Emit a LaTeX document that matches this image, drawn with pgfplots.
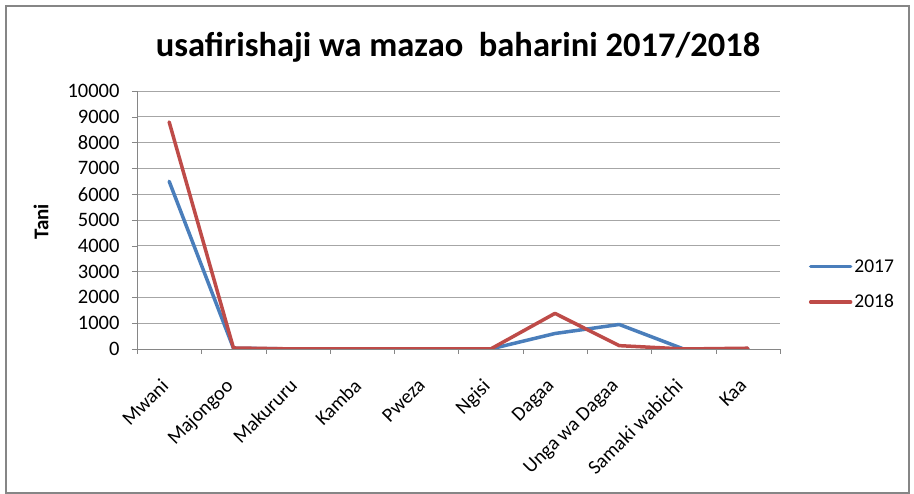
\documentclass[border=0pt]{standalone}
\usepackage{fontspec}
\setmainfont{Carlito}
\usepackage{pgfplots}
\pgfplotsset{compat=1.18}
\definecolor{s1}{HTML}{4A7EBB}
\definecolor{s2}{HTML}{BE4B48}
\definecolor{axgray}{HTML}{868686}
\definecolor{gridgray}{HTML}{A6A6A6}
\begin{document}
\begin{tikzpicture}[x=1pt,y=1pt]
\path[use as bounding box] (0,0) rectangle (914,494);
\draw[axgray, line width=1.5pt] (6,1) rectangle (909,488);
\node[font=\fontsize{34.5}{40}\selectfont\bfseries] at (458,447) {usafirishaji wa mazao\ \ baharini 2017/2018};
\node[rotate=90, font=\fontsize{21}{25}\selectfont\bfseries] at (41,272) {Tani};
\begin{axis}[
  at={(137pt,145pt)}, anchor=south west,
  scale only axis, width=643pt, height=258pt,
  xmin=-0.5, xmax=9.5, ymin=0, ymax=10000,
  xtick={0,...,9},
  xticklabels={Mwani,Majongoo,Makururu,Kamba,Pweza,Ngisi,Dagaa,Unga wa Dagaa,Samaki wabichi,Kaa},
  x tick label style={rotate=45, anchor=north east, font=\fontsize{20}{24}\selectfont, inner sep=1pt, xshift=-22pt, yshift=-9pt},
  major x tick style={draw=none},
  minor xtick={-0.5,0.5,...,9.5},
  minor x tick style={axgray},
  ytick={0,1000,...,10000},
  y tick label style={font=\fontsize{20.5}{24}\selectfont, /pgf/number format/1000 sep={}, xshift=-9pt},
  /pgf/number format/assume math mode=true,
  scaled y ticks=false,
  ymajorgrids, grid style={gridgray, line width=0.8pt},
  axis x line*=bottom, axis y line*=left,
  axis line style={axgray, line width=0.8pt, -},
  tick align=outside, major tick length=5pt, minor tick length=5pt,
  ytick style={axgray},
  legend style={at={(rel axis cs:1.04,0.25)}, anchor=west, draw=none, fill=none,
    font=\fontsize{19.5}{23}\selectfont, row sep=17pt},
  legend cell align=left,
  legend image code/.code={\draw[#1, line width=3.5pt] (0pt,0pt) -- (40pt,0pt);},
]
\addplot[s1, line width=3.5pt, line join=round, line cap=round] coordinates {
  (0,6500) (1,30) (2,0) (3,0) (4,0) (5,0) (6,600) (7,950) (8,0) (9,10)};
\addlegendentry{2017}
\addplot[s2, line width=3.5pt, line join=round, line cap=round] coordinates {
  (0,8800) (1,40) (2,0) (3,0) (4,0) (5,0) (6,1380) (7,130) (8,0) (9,30)};
\addlegendentry{2018}
\end{axis}
\end{tikzpicture}
\end{document}
